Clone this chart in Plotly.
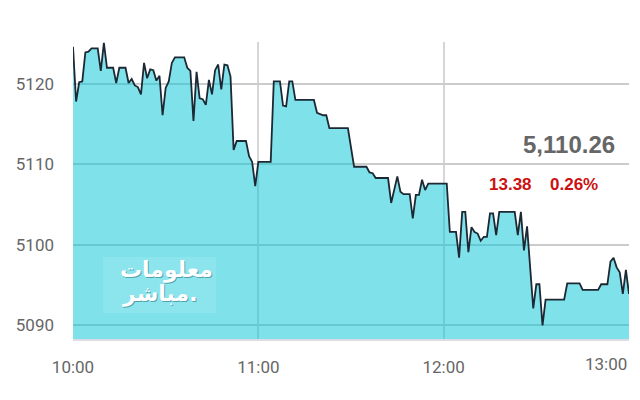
import plotly.graph_objects as go

times = [
    "10:00","10:01","10:02","10:03","10:04","10:05","10:06","10:08","10:09","10:10",
    "10:11","10:13","10:14","10:15","10:17","10:18","10:19","10:20","10:21","10:22",
    "10:23","10:24","10:25","10:26","10:27","10:28","10:29","10:30","10:31","10:32",
    "10:33","10:36","10:37","10:38","10:39","10:40","10:41","10:42","10:43","10:44",
    "10:45","10:46","10:47","10:48","10:49","10:50","10:51","10:52","10:53","10:56",
    "10:57","10:58","10:59","11:00","11:04","11:05","11:07","11:08","11:09","11:10",
    "11:11","11:12","11:18","11:19","11:21","11:22","11:23","11:29","11:31","11:35",
    "11:36","11:37","11:38","11:42","11:43","11:45","11:46","11:47","11:49","11:50",
    "11:51","11:52","11:53","11:54","11:55","12:01","12:02","12:04","12:05","12:06",
    "12:07","12:08","12:09","12:10","12:11","12:12","12:13","12:14","12:15","12:16",
    "12:17","12:18","12:23","12:24","12:25","12:26","12:27","12:29","12:30","12:31",
    "12:32","12:33","12:39","12:40","12:44","12:45","12:50","12:51","12:53","12:54",
    "12:55","12:56","12:57","12:58","12:59","13:00",
]
values = [
    5124.6, 5117.8, 5120.2, 5120.3, 5123.9, 5124.0, 5124.4, 5124.4, 5121.6, 5125.1,
    5122.0, 5122.0, 5120.1, 5122.0, 5122.0, 5120.1, 5120.6, 5119.8, 5119.6, 5118.7,
    5122.6, 5120.7, 5121.8, 5121.7, 5120.4, 5121.0, 5116.1, 5119.5, 5120.3, 5122.6,
    5123.3, 5123.3, 5122.0, 5121.6, 5115.4, 5121.5, 5118.2, 5118.1, 5117.4, 5120.5,
    5118.7, 5121.7, 5122.4, 5119.3, 5122.4, 5122.3, 5120.9, 5111.8, 5112.9, 5112.9,
    5111.0, 5110.3, 5107.3, 5110.3, 5110.3, 5120.3, 5120.3, 5117.3, 5117.2, 5120.3,
    5120.3, 5118.0, 5118.0, 5116.4, 5116.1, 5116.1, 5114.5, 5114.5, 5109.7, 5109.7,
    5109.0, 5108.9, 5108.3, 5108.3, 5105.2, 5108.5, 5106.6, 5106.3, 5106.3, 5103.3,
    5106.2, 5106.2, 5108.1, 5106.8, 5107.6, 5107.6, 5101.6, 5101.6, 5098.4, 5104.1,
    5104.1, 5099.1, 5102.2, 5101.6, 5101.4, 5100.5, 5101.0, 5101.0, 5103.9, 5103.9,
    5101.2, 5104.1, 5104.1, 5101.2, 5104.1, 5099.3, 5102.3, 5092.1, 5095.1, 5095.1,
    5090.0, 5093.2, 5093.2, 5095.2, 5095.2, 5094.4, 5094.4, 5095.1, 5095.1, 5097.9,
    5098.4, 5097.2, 5096.6, 5093.9, 5096.9, 5093.9,
]
x_ticks = ["10:00", "11:00", "12:00", "13:00"]
y_ticks = [5090, 5100, 5110, 5120]
last_value = "5,110.26"
change_value = "13.38"
change_pct = "0.26%"
logo_lines = ["معلومات", "مباشر."]

DAY = "2024-01-01 "
xs = [DAY + t for t in times]
tick_dates = [DAY + t for t in x_ticks]

# the page body has an 8px default margin, so the figure is drawn 8px in
OFF = 8
W, H = 640 - OFF, 400 - OFF
ML, MT = 73 - OFF, 42 - OFF
MR = W - (629 - OFF)
MB = H - (339 - OFF)

def px(xp):
    return (xp - OFF - ML) / (W - ML - MR)

def py(yp):
    return (H - MB - (yp - OFF)) / (H - MT - MB)

fig = go.Figure()
fig.add_trace(go.Scatter(
    x=xs, y=values, mode="lines",
    line=dict(color="#1c2833", width=1.8),
    fill="tozeroy", fillcolor="rgba(0,196,214,0.5)",
    hoverinfo="skip", showlegend=False,
))

tick_font = dict(family="Roboto, Liberation Sans, sans-serif", size=17, color="#666666")

fig.update_layout(
    width=W, height=H,
    margin=dict(l=ML, r=MR, t=MT, b=MB),
    paper_bgcolor="white", plot_bgcolor="white",
    xaxis=dict(
        type="date",
        range=[tick_dates[0], tick_dates[-1]],
        tickvals=tick_dates,
        ticktext=x_ticks[:-1] + [""],
        showgrid=True, gridcolor="#d6d6d6", gridwidth=1.5,
        zeroline=False, showline=True, linecolor="#dcdce6", linewidth=1.5,
        ticks="", tickfont=tick_font, ticklabelstandoff=12,
        automargin=False, fixedrange=True,
    ),
    yaxis=dict(
        range=[5088.3, 5125.2],
        tickvals=y_ticks,
        ticktext=[str(v) for v in y_ticks],
        showgrid=True, gridcolor="#cccccc", gridwidth=1.5,
        zeroline=False, showline=False,
        ticks="", tickfont=tick_font, ticklabelstandoff=18,
        automargin=False, fixedrange=True,
    ),
)

# last x tick label, right-aligned to the plot edge
fig.add_annotation(
    x=tick_dates[-1], y=0, xref="x", yref="paper",
    text=x_ticks[-1], showarrow=False, xanchor="right", yanchor="top",
    yshift=-13, font=tick_font,
)

bold_font = "Liberation Sans, Arial, sans-serif"
fig.add_annotation(
    x=px(617), y=py(144), xref="paper", yref="paper",
    text="<b>%s</b>" % last_value, showarrow=False,
    xanchor="right", yanchor="middle",
    font=dict(family=bold_font, size=24, color="#666666"),
)
fig.add_annotation(
    x=px(487), y=py(184), xref="paper", yref="paper",
    text="<b>%s</b>" % change_value, showarrow=False,
    xanchor="left", yanchor="middle",
    font=dict(family=bold_font, size=17, color="#cc1111"),
)
fig.add_annotation(
    x=px(600), y=py(184), xref="paper", yref="paper",
    text="<b>%s</b>" % change_pct, showarrow=False,
    xanchor="right", yanchor="middle",
    font=dict(family=bold_font, size=17, color="#cc1111"),
)

# logo (right-to-left text is laid out starting at the anchor point here)
fig.add_shape(type="rect", xref="paper", yref="paper",
              x0=px(103), x1=px(216), y0=py(313), y1=py(257),
              line=dict(width=0), fillcolor="rgba(255,255,255,0.10)", layer="above")
logo_font = "DejaVu Sans, Noto Sans, sans-serif"
for txt, lx, cy in [(logo_lines[0], 118, 285), (logo_lines[1], 120, 309)]:
    fig.add_annotation(x=px(lx + 1), y=py(cy + 1), xref="paper", yref="paper",
                       text="<b>%s</b>" % txt, showarrow=False,
                       font=dict(family=logo_font, size=22, color="rgba(30,110,120,0.55)"))
    fig.add_annotation(x=px(lx), y=py(cy), xref="paper", yref="paper",
                       text="<b>%s</b>" % txt, showarrow=False,
                       font=dict(family=logo_font, size=22, color="white"))

fig.write_html("out.html")
